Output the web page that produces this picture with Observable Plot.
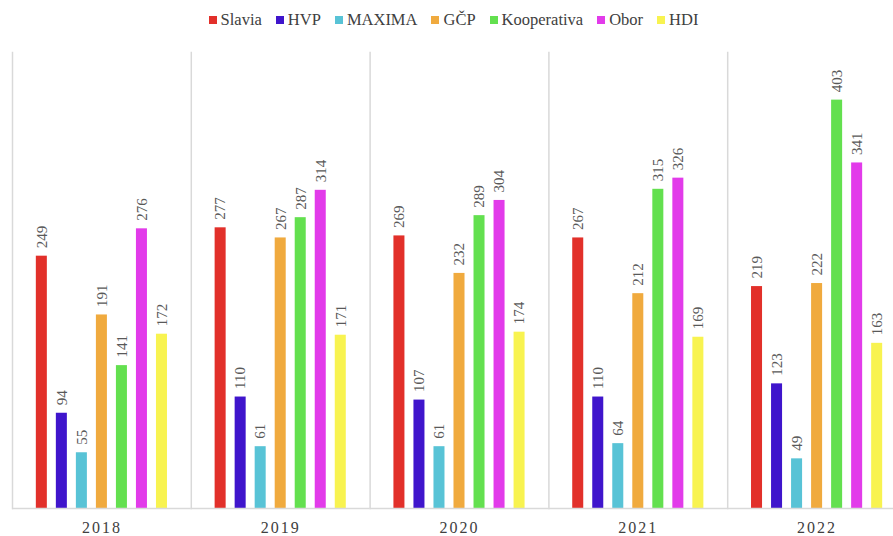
<!DOCTYPE html>
<html>
<head>
<meta charset="utf-8">
<script src="https://cdn.jsdelivr.net/npm/d3@7"></script>
<script src="https://cdn.jsdelivr.net/npm/@observablehq/plot@0.6"></script>
<style>
  html, body { margin: 0; padding: 0; background: #fff; }
  #wrap { position: relative; width: 893px; height: 536px; overflow: hidden; }
  #chart svg { max-width: none !important; display: block; }
  #legend { position: absolute; top: 10px; left: 0; width: 893px; display: flex; justify-content: center;
    font-family: "Liberation Serif", serif; font-size: 16.5px; color: #404040; gap: 14px; padding-left: 14px; box-sizing: border-box; }
  #legend span.item { display: flex; align-items: center; }
  #legend span.sw { display: inline-block; width: 8px; height: 8px; margin-right: 4px; }
</style>
</head>
<body>
<div id="wrap">
  <div id="legend"></div>
  <div id="chart"></div>
</div>
<script>
const years = ["2018", "2019", "2020", "2021", "2022"];
const companies = ["Slavia", "HVP", "MAXIMA", "GČP", "Kooperativa", "Obor", "HDI"];
const colors = ["#E2302A", "#3F15CC", "#58C3D6", "#F0AA3E", "#63E04F", "#E23BEA", "#F8F350"];
const Slavia = [249, 277, 269, 267, 219];
const HVP = [94, 110, 107, 110, 123];
const MAXIMA = [55, 61, 61, 64, 49];
const GCP = [191, 267, 232, 212, 222];
const Kooperativa = [141, 287, 289, 315, 403];
const Obor = [276, 314, 304, 326, 341];
const HDI = [172, 171, 174, 169, 163];

const series = [Slavia, HVP, MAXIMA, GCP, Kooperativa, Obor, HDI];
const data = [];
years.forEach((y, i) => {
  companies.forEach((c, j) => {
    data.push({year: y, company: c, value: series[j][i]});
  });
});

// legend
const leg = document.getElementById("legend");
companies.forEach((c, j) => {
  const it = document.createElement("span");
  it.className = "item";
  it.innerHTML = `<span class="sw" style="background:${colors[j]}"></span>${c}`;
  leg.appendChild(it);
});

const chart = Plot.plot({
  width: 906,
  height: 536,
  marginTop: 52,
  marginBottom: 28,
  marginLeft: 12,
  marginRight: 0,
  style: {fontFamily: "Liberation Serif, serif", background: "transparent", maxWidth: "none"},
  fx: {domain: years, padding: 0, round: false, label: null, axis: "bottom", tickSize: 0, tickPadding: 13},
  x: {domain: companies, paddingInner: 0.45, paddingOuter: 1.19, round: false, axis: null},
  y: {domain: [0, 450], axis: null},
  color: {domain: companies, range: colors},
  marks: [
    Plot.frame({anchor: "left", stroke: "#d9d9d9", strokeWidth: 1.5}),
    Plot.barY(data, {fx: "year", x: "company", y: "value", fill: "company"}),
    Plot.ruleY([0], {stroke: "#d9d9d9", strokeWidth: 1.5}),
    Plot.text(data, {fx: "year", x: "company", y: "value", text: d => String(d.value),
      rotate: -90, textAnchor: "start", dy: -8, fill: "#595959", fontSize: 15})
  ]
});
chart.style.overflow = "hidden";
chart.style.maxWidth = "none";
chart.querySelectorAll("[aria-label='fx-axis tick label'] text, [aria-label='fx-axis'] text").forEach(t => {
  t.style.fontSize = "16px";
  t.style.letterSpacing = "2px";
  t.style.fill = "#404040";
});
document.getElementById("chart").appendChild(chart);
</script>
</body>
</html>
